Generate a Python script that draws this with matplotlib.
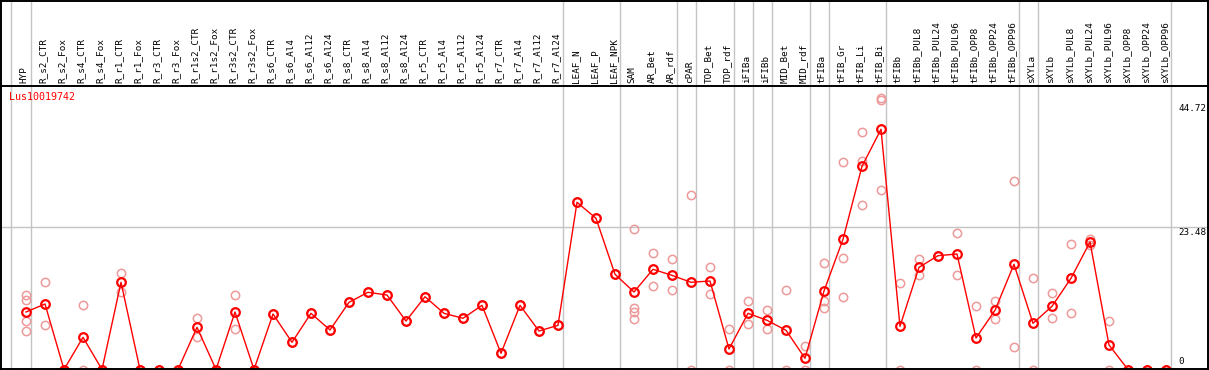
import matplotlib
matplotlib.use("Agg")
import matplotlib.pyplot as plt
from matplotlib.transforms import blended_transform_factory
from matplotlib.lines import Line2D

categories = ["HYP", "R_s2_CTR", "R_s2_Fox", "R_s4_CTR", "R_s4_Fox", "R_r1_CTR", "R_r1_Fox",
              "R_r3_CTR", "R_r3_Fox", "R_r1s2_CTR", "R_r1s2_Fox", "R_r3s2_CTR", "R_r3s2_Fox",
              "R_s6_CTR", "R_s6_Al4", "R_s6_Al12", "R_s6_Al24", "R_s8_CTR", "R_s8_Al4",
              "R_s8_Al12", "R_s8_Al24", "R_r5_CTR", "R_r5_Al4", "R_r5_Al12", "R_r5_Al24",
              "R_r7_CTR", "R_r7_Al4", "R_r7_Al12", "R_r7_Al24", "LEAF_N", "LEAF_P", "LEAF_NPK",
              "SAM", "AR_Bet", "AR_rdf", "cPAR", "TOP_Bet", "TOP_rdf", "iFIBa", "iFIBb",
              "MID_Bet", "MID_rdf", "tFIBa", "tFIB_Gr", "tFIB_Li", "tFIB_Bi", "tFIBb",
              "tFIBb_PUL8", "tFIBb_PUL24", "tFIBb_PUL96", "tFIBb_OPP8", "tFIBb_OPP24",
              "tFIBb_OPP96", "sXYLa", "sXYLb", "sXYLb_PUL8", "sXYLb_PUL24", "sXYLb_PUL96",
              "sXYLb_OPP8", "sXYLb_OPP24", "sXYLb_OPP96"]

means = [9.49, 10.81, 0, 5.31, 0, 14.39, 0, 0, 0, 6.96, 0, 9.49, 0,
         9.16, 4.49, 9.27, 6.52, 11.09, 12.74, 12.29, 8.0, 12.01, 9.27, 8.45, 10.59,
         2.67, 10.59, 6.35, 7.29, 27.59, 24.95, 15.71,
         12.79, 16.53, 15.54, 14.39, 14.60, 3.38, 9.27, 8.12, 6.47, 1.85,
         12.95, 21.49, 33.53, 39.64, 7.13,
         16.86, 18.78, 19.06, 5.20, 9.77, 17.36,
         7.62, 10.43, 15.05, 21.04, 4.04, 0, 0, 0]

replicates = [[12.29, 11.47, 7.95, 6.35], [14.36, 7.29], [0, 0], [10.64, 0], [0, 0],
              [15.87, 12.84], [0, 0], [0, 0], [0, 0], [8.55, 5.31], [0, 0], [12.24, 6.68], [0, 0],
              [9.16, 9.16], [4.49, 4.49], [9.27, 9.27], [6.52, 6.52], [11.09, 11.09],
              [12.74, 12.74], [12.29, 12.29], [8.0, 8.0], [12.01, 12.01], [9.27, 9.27],
              [8.45, 8.45], [10.59, 10.59], [2.67, 2.67], [10.59, 10.59], [6.35, 6.35],
              [7.29, 7.29], [27.59, 27.59], [24.95, 24.95], [15.71, 15.71],
              [23.14, 10.10, 9.54, 8.28], [19.17, 13.83], [18.18, 13.07], [28.80, 0],
              [16.86, 12.41], [6.63, 0], [11.25, 7.46], [9.77, 6.63], [13.07, 0], [3.83, 0],
              [17.57, 11.30, 10.10], [34.19, 18.40, 11.91], [39.14, 34.41, 27.10],
              [44.72, 44.55, 29.57], [14.22, 0],
              [18.18, 15.54], [18.78, 18.78], [22.48, 15.54], [10.43, 0], [11.30, 8.28],
              [31.16, 3.66], [15.05, 0], [12.57, 8.45], [20.71, 9.27], [21.53, 20.54],
              [7.95, 0], [0, 0], [0, 0], [0, 0]]

separators = [-0.81, 0.25, 28.25, 31.25, 34.25, 35.25, 37.25, 38.25, 39.25, 41.25,
              42.25, 45.25, 52.25, 53.25, 60.25]
ytick_values = [44.72, 23.48, 0]
ytick_labels = ["44.72", "23.48", "0"]
gene = "Lus10019742"

W, H = 1209, 370
fig = plt.figure(figsize=(W / 100, H / 100), dpi=100)
ax = fig.add_axes([0, 0, 1, 284 / H])
ax.set_xlim((0 - 26) / 19, (W - 26) / 19)
ax.set_ylim((369.5 - 370) / 6.06, (369.5 - 86) / 6.06)
ax.axis("off")

mono = "DejaVu Sans Mono"
grid_c = "#c4c4c4"
pink = "#ee9a9a"
red = "#ff0000"

bt = blended_transform_factory(ax.transData, fig.transFigure)
for s in separators:
    ax.plot([s, s], [0, 1], transform=bt, color=grid_c, lw=1.0, clip_on=False, zorder=1)

ax.axhline(23.48, color=grid_c, lw=1.0, zorder=1)

xs = list(range(len(categories)))
for i, reps in enumerate(replicates):
    ax.plot([i] * len(reps), reps, linestyle="none", marker="o", ms=6, mfc="none",
            mec=pink, mew=1.1, zorder=2, clip_on=False)

ax.plot(xs, means, color=red, lw=1.0, zorder=3, clip_on=False)
ax.plot(xs, means, linestyle="none", marker="o", ms=6.2, mfc="none", mec=red, mew=1.6,
        zorder=4, clip_on=False)

for i, c in enumerate(categories):
    ax.text(i - 0.09, (H - 83) / H, c, transform=bt, rotation=90, ha="center",
            va="bottom", fontsize=6.7, family=mono, color="black")

bty = blended_transform_factory(fig.transFigure, ax.transData)
offsets = [-10, -5, 8]
for v, lab, off in zip(ytick_values, ytick_labels, offsets):
    ax.annotate(lab, xy=(1178.5 / W, v), xycoords=bty, xytext=(0, off),
                textcoords="offset pixels", ha="left", va="center", fontsize=6.7,
                family=mono, color="black")

fig.text(9 / W, (H - 97.5) / H, gene, ha="left", va="center", fontsize=7.2,
         family=mono, color=red)

def fline(x0, y0, x1, y1):
    fig.add_artist(Line2D([x0 / W, x1 / W], [1 - y0 / H, 1 - y1 / H],
                          transform=fig.transFigure, color="black", lw=1.4, zorder=10))

fline(0, 0.5, W, 0.5)
fline(0.5, 0, 0.5, H)
fline(W - 1.5, 0, W - 1.5, H)
fline(0, 85.7, W, 85.7)
fline(0, 369.2, W, 369.2)

fig.savefig("out.png", dpi=100, facecolor="white")
